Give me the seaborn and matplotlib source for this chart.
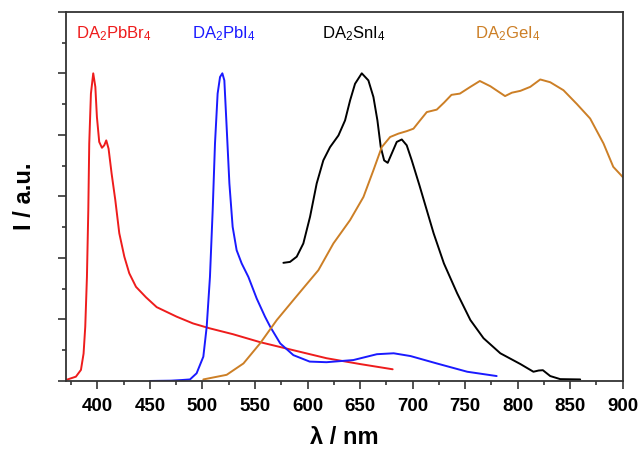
import numpy as np
import pandas as pd
import matplotlib
matplotlib.use("Agg")
import matplotlib.pyplot as plt
import seaborn as sns
from matplotlib.ticker import MultipleLocator

sns.set_theme(style="ticks")
plt.rcParams['font.family'] = ['Liberation Sans', 'DejaVu Sans']
plt.rcParams['mathtext.default'] = 'regular'

# DA2PbBr4 (red)
pbbr_x = [370, 371.6, 379.5, 384.3, 386.8, 388.4, 390, 391.3, 392.2, 393.8, 396, 398, 399.5, 401.7,
          404.3, 406.5, 408.4, 410.6, 413.5, 417, 420.8, 425.6, 430.3, 436.7, 446.2, 456.4, 475.4,
          491, 507, 529, 555, 586.5, 618, 650, 681]
pbbr_y = [0.004, 0.005, 0.014, 0.036, 0.089, 0.176, 0.338, 0.555, 0.772, 0.934, 1.0, 0.956, 0.858,
          0.777, 0.758, 0.766, 0.782, 0.755, 0.674, 0.588, 0.48, 0.404, 0.35, 0.306, 0.272, 0.240,
          0.209, 0.187, 0.171, 0.152, 0.126, 0.10, 0.074, 0.055, 0.038]
# DA2PbI4 (blue)
pbi_x = [450, 470, 480, 488.1, 494.4, 500.8, 504, 507.1, 509.7, 511.9, 514.4, 516.7, 518.9, 520.8,
         523, 525.6, 528.7, 532.5, 537.3, 543.7, 551.6, 559.5, 564.5, 574, 586.5, 602, 618, 643.6,
         666, 682, 698, 723, 752, 780]
pbi_y = [0.0, 0.001, 0.003, 0.005, 0.025, 0.079, 0.176, 0.338, 0.555, 0.772, 0.934, 0.988, 1.0, 0.977,
         0.825, 0.642, 0.501, 0.425, 0.382, 0.338, 0.268, 0.209, 0.176, 0.122, 0.084, 0.063, 0.061,
         0.068, 0.087, 0.09, 0.081, 0.057, 0.03, 0.016]
# DA2SnI4 (black)
sni_x = [577, 583.3, 589.7, 596, 602.4, 608.7, 615, 621.4, 629.4, 635.7, 640.5, 645.2, 651.6, 657.9,
         662.7, 666.5, 669.7, 672.9, 676.3, 680.1, 684.9, 689.7, 694.4, 699.2, 706.5, 720, 729.8,
         742.4, 755, 767.5, 783.5, 802.6, 815, 820, 824, 831, 840.5, 859.5]
sni_y = [0.384, 0.387, 0.404, 0.447, 0.534, 0.642, 0.717, 0.76, 0.798, 0.847, 0.912, 0.966, 1.0, 0.977,
         0.923, 0.847, 0.76, 0.717, 0.709, 0.739, 0.777, 0.785, 0.766, 0.717, 0.636, 0.48, 0.382,
         0.285, 0.198, 0.139, 0.09, 0.055, 0.03, 0.034, 0.035, 0.016, 0.006, 0.005]
# DA2GeI4 (orange)
gei_x = [500.8, 523, 539, 555, 570.7, 586.5, 598, 610.3, 624.6, 640.5, 653.2, 662.7, 670.6, 678.6,
         686.5, 694.4, 700.8, 707.1, 713.5, 723, 730, 737, 745, 755, 764, 774, 788, 794.5, 802.6,
         812, 821.5, 831, 843.6, 856.4, 869, 881.7, 891, 900]
gei_y = [0.005, 0.02, 0.057, 0.123, 0.198, 0.263, 0.31, 0.36, 0.447, 0.523, 0.598, 0.685, 0.76, 0.793,
         0.804, 0.812, 0.82, 0.847, 0.874, 0.882, 0.905, 0.93, 0.934, 0.956, 0.975, 0.958, 0.926,
         0.937, 0.943, 0.956, 0.98, 0.971, 0.945, 0.90, 0.853, 0.772, 0.696, 0.663]

names = ["DA$_2$PbBr$_4$", "DA$_2$PbI$_4$", "DA$_2$SnI$_4$", "DA$_2$GeI$_4$"]
colors = ["#ee1c1c", "#1a1aff", "#000000", "#cc7f26"]
label_x = [379.5, 490, 613.8, 759.5]

df = pd.concat([
    pd.DataFrame({"wl": pbbr_x, "I": pbbr_y, "s": names[0]}),
    pd.DataFrame({"wl": pbi_x, "I": pbi_y, "s": names[1]}),
    pd.DataFrame({"wl": sni_x, "I": sni_y, "s": names[2]}),
    pd.DataFrame({"wl": gei_x, "I": gei_y, "s": names[3]}),
])

fig = plt.figure(figsize=(6.4, 4.53), dpi=100)
ax = fig.add_axes([0.103, 0.159, 0.870, 0.815])
sns.lineplot(data=df, x="wl", y="I", hue="s", palette=dict(zip(names, colors)),
             sort=False, estimator=None, linewidth=1.4, legend=False, ax=ax)
for ln in ax.get_lines():
    ln.set_solid_joinstyle('round')

ax.set_xlim(370, 900)
ax.set_ylim(0, 1.2)
ax.xaxis.set_major_locator(MultipleLocator(50))
ax.xaxis.set_minor_locator(MultipleLocator(25))
ax.yaxis.set_major_locator(MultipleLocator(0.2))
ax.yaxis.set_minor_locator(MultipleLocator(0.1))
ax.set_yticklabels([])
ax.tick_params(axis='both', which='major', direction='out', length=6, width=1.2, color='#333333',
               labelcolor='black')
ax.tick_params(axis='both', which='minor', direction='out', length=3, width=1.2, color='#333333')
ax.tick_params(axis='x', labelsize=13.5, pad=6)
for lab in ax.get_xticklabels():
    lab.set_fontweight('bold')
for sp in ax.spines.values():
    sp.set_linewidth(1.3)
    sp.set_color('#333333')

ax.set_xlabel("λ / nm", fontsize=17, fontweight='bold', labelpad=8, color='black')
ax.set_ylabel("I / a.u.", fontsize=17, fontweight='bold', labelpad=12, color='black')

for n, c, lx in zip(names, colors, label_x):
    ax.text(lx, 1.13, n, color=c, fontsize=12, ha='left', va='center')

fig.savefig("out.png", dpi=100)
